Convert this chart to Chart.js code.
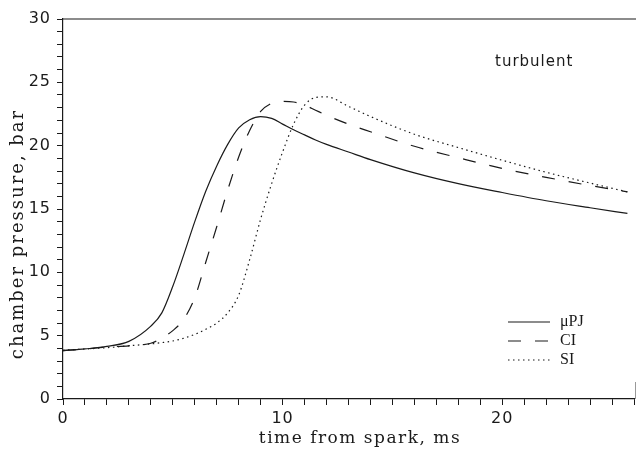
<!DOCTYPE html>
<html>
<head>
<meta charset="utf-8">
<script src="https://cdn.jsdelivr.net/npm/chart.js@4.4.1/dist/chart.umd.min.js"></script>
<style>
  html,body{margin:0;padding:0;background:#fff;}
  #c{display:block;}
</style>
</head>
<body>
<canvas id="c" width="638" height="452"></canvas>
<script>
// tiempos (ms desde la chispa)
const tiempo=[0,1,2,3,4,4.5,5,5.5,6,6.5,7,7.5,8,8.5,9,9.5,10,10.5,11,11.5,12,13,14,16,18,20,22,24,25.7];
// presion de camara (bar) para cada encendido
const presPJ=[3.8,3.95,4.15,4.55,5.75,6.8,8.9,11.4,14.0,16.4,18.4,20.1,21.4,22.05,22.3,22.15,21.7,21.25,20.85,20.45,20.1,19.5,18.9,17.85,17.0,16.3,15.65,15.1,14.65];
const presCI=[3.85,3.95,4.1,4.2,4.4,4.8,5.4,6.3,8.0,10.8,13.6,16.5,19.1,21.2,22.7,23.35,23.5,23.45,23.2,22.8,22.4,21.7,21.1,19.95,19.05,18.2,17.5,16.85,16.35];
const presSI=[3.85,3.95,4.05,4.2,4.35,4.45,4.58,4.8,5.1,5.5,6.0,6.8,8.2,11.0,14.2,17.0,19.5,21.7,23.2,23.8,23.85,23.1,22.3,20.9,19.85,18.85,17.9,17.05,16.35];
const SERIES=[{name:'\u03bcPJ',vals:presPJ,dash:[]},
              {name:'CI',vals:presCI,dash:[13,14]},
              {name:'SI',vals:presSI,dash:[1.5,3.5]}];
const xLabels=[0,10,20];
const yLabels=[0,5,10,15,20,25,30];
const xTitulo='time from spark, ms';
const yTitulo='chamber pressure, bar';
const anotacion='turbulent';

const INK='#1a1a1a';
const pts=v=>tiempo.map((t,i)=>({x:t,y:v[i]}));

// caja superior, titulos de ejes, leyenda y texto "turbulent"
const deco={
  id:'deco',
  beforeDraw(ch){ch.ctx.letterSpacing='1px';},
  afterDraw(ch){
    const {ctx,chartArea:a}=ch;
    ctx.save();
    ctx.strokeStyle=INK;ctx.lineWidth=1.2;
    ctx.beginPath();ctx.moveTo(a.left,a.top);ctx.lineTo(a.right+2,a.top);ctx.stroke();
    ctx.strokeStyle='#999';ctx.lineWidth=1;
    ctx.beginPath();ctx.moveTo(a.right+1.5,a.bottom-17);ctx.lineTo(a.right+1.5,a.bottom);ctx.stroke();
    ctx.fillStyle=INK;ctx.textBaseline='middle';ctx.textAlign='center';
    // titulos
    ctx.letterSpacing='1.5px';ctx.font='17px "DejaVu Serif"';
    ctx.fillText(xTitulo,360,439);
    ctx.save();ctx.translate(18,234);ctx.rotate(-Math.PI/2);
    ctx.letterSpacing='2px';ctx.font='18px "DejaVu Serif"';
    ctx.fillText(yTitulo,0,0);ctx.restore();
    ctx.textAlign='left';
    ctx.letterSpacing='1px';ctx.font='15px "DejaVu Sans"';
    ctx.fillText(anotacion,495,62);
    ctx.font='16px "Liberation Serif"';ctx.letterSpacing='0px';
    ch.data.datasets.forEach((d,i)=>{
      const y=322+i*19;
      ctx.strokeStyle=INK;ctx.lineWidth=1.2;ctx.setLineDash(d.borderDash||[]);
      ctx.beginPath();ctx.moveTo(508,y);ctx.lineTo(550,y);ctx.stroke();
      ctx.setLineDash([]);
      ctx.fillText(d.label,560,y);
    });
    ctx.restore();
  }
};

new Chart(document.getElementById('c'),{
  type:'line',
  data:{datasets:SERIES.map(s=>({label:s.name,data:pts(s.vals),borderColor:INK,borderWidth:1.2,
    borderDash:s.dash,pointRadius:0,cubicInterpolationMode:'monotone',fill:false}))},
  options:{
    responsive:false,animation:false,devicePixelRatio:1,
    layout:{padding:{top:19,right:3,left:0,bottom:0}},
    plugins:{legend:{display:false},tooltip:{enabled:false}},
    scales:{
      x:{type:'linear',min:0,max:26,
        afterFit:s=>{s.height=53;},
        grid:{drawOnChartArea:false,tickLength:6,color:INK,lineWidth:1},
        border:{color:INK,width:1.2},
        ticks:{stepSize:1,autoSkip:false,maxRotation:0,padding:4,color:INK,
          font:{family:'DejaVu Sans',size:16},
          callback:v=>xLabels.includes(v)?String(v):''}},
      y:{min:0,max:30,
        afterFit:s=>{s.width=63;},
        grid:{drawOnChartArea:false,tickLength:6,color:INK,lineWidth:1},
        border:{color:INK,width:1.2},
        ticks:{stepSize:1,autoSkip:false,padding:6,color:INK,
          font:{family:'DejaVu Sans',size:16},
          callback:v=>yLabels.includes(v)?String(v):''}}
    }
  },
  plugins:[deco]
});
</script>
</body>
</html>
